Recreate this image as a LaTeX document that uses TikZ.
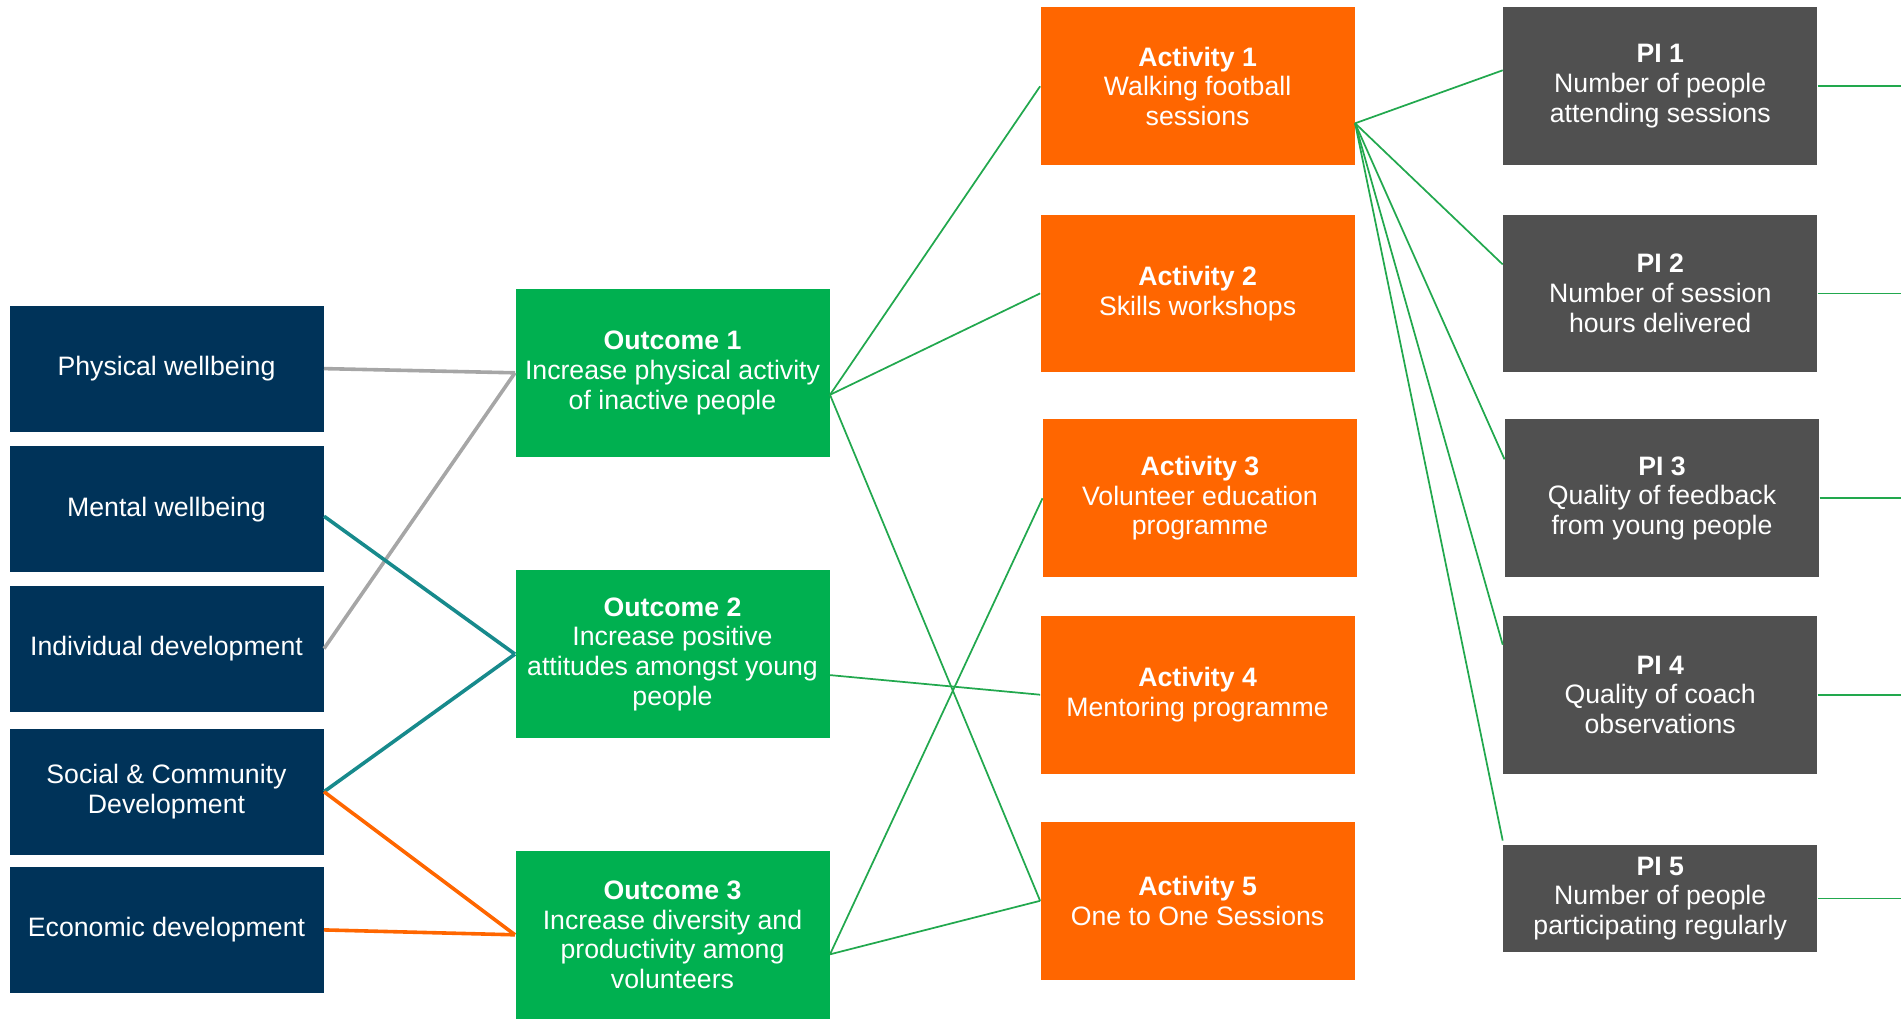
\documentclass[tikz,border=0pt]{standalone}
\usepackage{fontspec}
\setmainfont{Liberation Sans}
\usetikzlibrary{calc}

\definecolor{navyblue}{RGB}{0,51,89}
\definecolor{outgreen}{RGB}{0,176,80}
\definecolor{actorange}{RGB}{255,102,0}
\definecolor{pigray}{RGB}{80,80,80}
\definecolor{linkgray}{RGB}{166,166,166}
\definecolor{linkteal}{RGB}{23,138,140}
\definecolor{linkgreen}{RGB}{34,168,78}

\tikzset{every picture/.style={line width=0.75pt}}
\tikzset{
  box/.style={inner sep=0pt, text=white, align=center, minimum width=235.5pt,
    font=\fontsize{20}{22.3}\selectfont},
  themebox/.style={box, fill=navyblue, minimum height=94.5pt},
  outcomebox/.style={box, fill=outgreen, minimum height=126.4pt},
  activitybox/.style={box, fill=actorange, minimum height=118.3pt},
  pibox/.style={box, fill=pigray, minimum height=118.3pt},
  thicklink/.style={line width=2.7pt},
  greenlink/.style={draw=linkgreen, line width=1.3pt}
}

\begin{document}
\begin{tikzpicture}[x=0.75pt,y=0.75pt,yscale=-1,xscale=1]
\useasboundingbox (0,0) rectangle (1901,1018);

%Shape: Rectangle - themes
\node [themebox] (phys) at (166.5,368.6) {Physical wellbeing};
\node [themebox] (mental) at (166.5,509.2) {Mental wellbeing};
\node [themebox] (indiv) at (166.5,648.6) {Individual development};
\node [themebox] (social) at (166.5,791.7) {Social \& Community\\Development};
\node [themebox] (econ) at (166.5,929.9) {Economic development};

%Shape: Rectangle - outcomes
\node [outcomebox] (out1) at (672.5,372.8) {\textbf{Outcome 1}\\Increase physical activity\\of inactive people};
\node [outcomebox] (out2) at (672.5,654.1) {\textbf{Outcome 2}\\Increase positive\\attitudes amongst young\\people};
\node [outcomebox] (out3) at (672.5,934.8) {\textbf{Outcome 3}\\Increase diversity and\\productivity among\\volunteers};

%Shape: Rectangle - activities
\node [activitybox] (act1) at (1197.6,86.3) {\textbf{Activity 1}\\Walking football\\sessions};
\node [activitybox] (act2) at (1197.6,293.4) {\textbf{Activity 2}\\Skills workshops};
\node [activitybox] (act3) at (1200,498.3) {\textbf{Activity 3}\\Volunteer education\\programme};
\node [activitybox] (act4) at (1197.6,694.7) {\textbf{Activity 4}\\Mentoring programme};
\node [activitybox] (act5) at (1197.6,900.8) {\textbf{Activity 5}\\One to One Sessions};

%Shape: Rectangle - performance indicators
\node [pibox] (pi1) at (1660.2,86.3) {\textbf{PI 1}\\Number of people\\attending sessions};
\node [pibox] (pi2) at (1660.2,293.4) {\textbf{PI 2}\\Number of session\\hours delivered};
\node [pibox] (pi3) at (1662,498.3) {\textbf{PI 3}\\Quality of feedback\\from young people};
\node [pibox] (pi4) at (1660.2,694.7) {\textbf{PI 4}\\Quality of coach\\observations};
\node [pibox, minimum height=80pt] (pi5) at (1660.2,898.4) {\textbf{PI 5}\\Number of people\\participating regularly};

%Straight Lines - themes to outcomes
\draw [thicklink, linkgray] (phys.east) -- (out1.west);
\draw [thicklink, linkgray] (indiv.east) -- (out1.west);
\draw [thicklink, linkteal] ($(mental.east)+(0,7)$) -- (out2.west);
\draw [thicklink, linkteal] (social.east) -- (out2.west);
\draw [thicklink, actorange] (social.east) -- (out3.west);
\draw [thicklink, actorange] (econ.east) -- (out3.west);

%Straight Lines - outcomes to activities
\coordinate (out1r) at ($(out1.east)+(0,22)$);
\coordinate (out2r) at ($(out2.east)+(0,21)$);
\coordinate (out3r) at ($(out3.east)+(0,19.5)$);
\draw [greenlink] (out1r) -- (act1.west);
\draw [greenlink] (out1r) -- (act2.west);
\draw [greenlink] (out1r) -- (act5.west);
\draw [greenlink] (out2r) -- (act4.west);
\draw [greenlink] (out3r) -- (act3.west);
\draw [greenlink] (out3r) -- (act5.west);

%Straight Lines - activity 1 to indicators
\coordinate (act1r) at ($(act1.east)+(0,37)$);
\draw [greenlink] (act1r) -- ($(pi1.west)+(0,-16)$);
\draw [greenlink] (act1r) -- ($(pi2.west)+(0,-29)$);
\draw [greenlink] (act1r) -- ($(pi3.west)+(0,-39)$);
\draw [greenlink] (act1r) -- ($(pi4.west)+(0,-50)$);
\draw [greenlink] (act1r) -- ($(pi5.north west)+(0,-4)$);

%Straight Lines - indicators to page edge
\coordinate (edge) at (1901,0);
\foreach \p in {pi1,pi2,pi3,pi4,pi5}
  \draw [greenlink] (\p.east) -- (\p.east -| edge);

\end{tikzpicture}
\end{document}
